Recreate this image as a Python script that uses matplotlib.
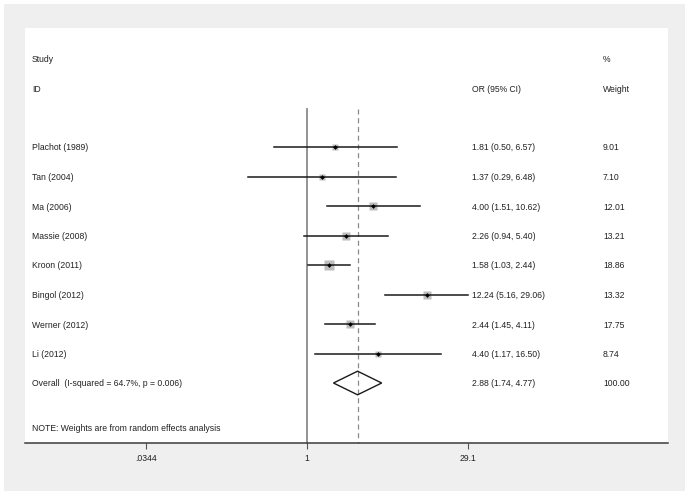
import numpy as np
import matplotlib
matplotlib.use("Agg")
import matplotlib.pyplot as plt
from matplotlib.patches import Rectangle, Polygon
from matplotlib.transforms import blended_transform_factory

plt.rcParams['font.family'] = ['Liberation Sans', 'DejaVu Sans']

studies = ["Plachot (1989)", "Tan (2004)", "Ma (2006)", "Massie (2008)",
           "Kroon (2011)", "Bingol (2012)", "Werner (2012)", "Li (2012)"]
or_est = [1.81, 1.37, 4.00, 2.26, 1.58, 12.24, 2.44, 4.40]
ci_low = [0.50, 0.29, 1.51, 0.94, 1.03, 5.16, 1.45, 1.17]
ci_high = [6.57, 6.48, 10.62, 5.40, 2.44, 29.06, 4.11, 16.50]
weights = [9.01, 7.10, 12.01, 13.21, 18.86, 13.32, 17.75, 8.74]

overall_or = 2.88
overall_low = 1.74
overall_high = 4.77
overall_label = "Overall  (I-squared = 64.7%, p = 0.006)"
note = "NOTE: Weights are from random effects analysis"
tick_vals = [0.0344, 1, 29.1]
tick_labels = [".0344", "1", "29.1"]

W, H = 689, 495
fig = plt.figure(figsize=(W / 100, H / 100), dpi=100)
fig.patch.set_facecolor("white")
# grey graph region
fig.patches.append(Rectangle((4 / W, 4 / H), 681 / W, 487 / H, transform=fig.transFigure,
                             facecolor="#efefef", edgecolor="none", zorder=-10))

ax = fig.add_axes([25 / W, (H - 443) / H, 643 / W, 415 / H])
ax.set_facecolor("white")

# x in log(OR); 1 at px 307, 47.8 px per log unit
ppl = 47.8
ax.set_xlim((25 - 307) / ppl, (668 - 307) / ppl)
# rows: 29.5 px apart, first study at px 147
ax.set_ylim((443 - 147) / 29.5, (28 - 147) / 29.5)

for s in ["top", "left", "right"]:
    ax.spines[s].set_visible(False)
ax.spines["bottom"].set_color("#3a3a3a")
ax.spines["bottom"].set_linewidth(1.1)
ax.set_yticks([])
ax.set_xticks(np.log(tick_vals))
ax.set_xticklabels(tick_labels)
ax.tick_params(axis="x", direction="out", length=4, width=0.8, color="#555555",
               labelsize=6.2, pad=4, labelcolor="#222222")

n = len(studies)
ytop = -1.3
ybot = ax.get_ylim()[0]

# null line and overall line
ax.plot([0, 0], [ytop, ybot], color="#8a8a8a", lw=1.3, zorder=1, clip_on=False)
ax.plot([np.log(overall_or)] * 2, [ytop, ybot], color="#8a8a8a", lw=0.9,
        ls=(0, (4, 3)), zorder=1, clip_on=False)

rows = np.arange(n)
for i in rows:
    ax.plot([np.log(ci_low[i]), np.log(ci_high[i])], [i, i], color="#1a1a1a", lw=1.1, zorder=3)
    ms = 6.6 * np.sqrt(weights[i] / 18.86)
    ax.plot(np.log(or_est[i]), i, marker="s", ms=ms, color="#bdbdbd", mec="none", zorder=2)
    ax.plot(np.log(or_est[i]), i, marker="D", ms=2.4, color="black", mec="none", zorder=4)

# overall diamond
yo = n
dh = 0.4
diamond = Polygon([[np.log(overall_low), yo], [np.log(overall_or), yo - dh],
                   [np.log(overall_high), yo], [np.log(overall_or), yo + dh]],
                  closed=True, facecolor="none", edgecolor="#1a1a1a", lw=1.0, zorder=3)
ax.add_patch(diamond)

tr = blended_transform_factory(fig.transFigure, ax.transData)
fs = 6.2
col_x = [32 / W, 472 / W, 603 / W]
kw = dict(transform=tr, fontsize=fs, va="center_baseline", ha="left", color="#222222")

ax.text(col_x[0], -3, "Study", **kw)
ax.text(col_x[0], -2, "ID", **kw)
ax.text(col_x[1], -2, "OR (95% CI)", **kw)
ax.text(col_x[2], -3, "%", **kw)
ax.text(col_x[2], -2, "Weight", **kw)

for i in rows:
    ax.text(col_x[0], i, studies[i], **kw)
    ax.text(col_x[1], i, f"{or_est[i]:.2f} ({ci_low[i]:.2f}, {ci_high[i]:.2f})", **kw)
    ax.text(col_x[2], i, f"{weights[i]:.2f}", **kw)

ax.text(col_x[0], yo, overall_label, **kw)
ax.text(col_x[1], yo, f"{overall_or:.2f} ({overall_low:.2f}, {overall_high:.2f})", **kw)
ax.text(col_x[2], yo, f"{sum(weights):.2f}", **kw)
ax.text(col_x[0], yo + 1.5, note, **kw)

fig.savefig("out.png", dpi=100)
